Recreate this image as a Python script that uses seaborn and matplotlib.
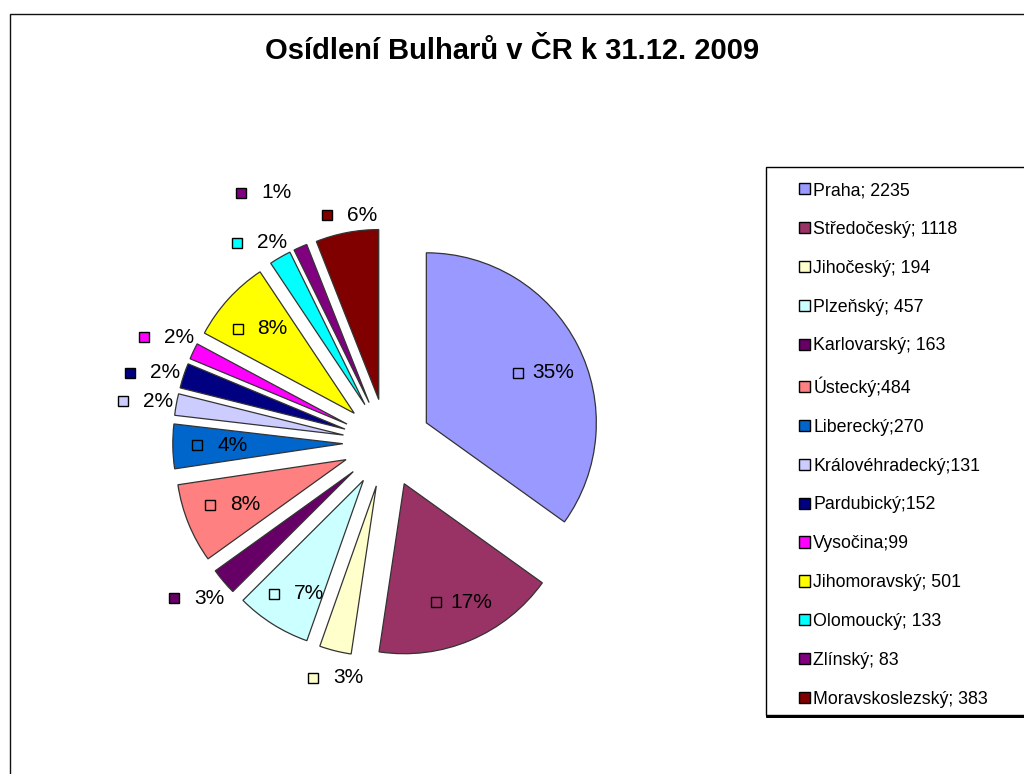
import numpy as np
import matplotlib
matplotlib.use("Agg")
import matplotlib.pyplot as plt
import matplotlib.transforms as mtransforms
from matplotlib.patches import Patch, Rectangle
import seaborn as sns

# data
regions = ['Praha', 'Středočeský', 'Jihočeský', 'Plzeňský', 'Karlovarský', 'Ústecký',
           'Liberecký', 'Královéhradecký', 'Pardubický', 'Vysočina', 'Jihomoravský',
           'Olomoucký', 'Zlínský', 'Moravskoslezský']
counts = [2235, 1118, 194, 457, 163, 484, 270, 131, 152, 99, 501, 133, 83, 383]
separators = ['; ', '; ', '; ', '; ', '; ', ';', ';', ';', ';', ';', '; ', '; ', '; ', '; ']
colors = ['#9999FF', '#993366', '#FFFFCC', '#CCFFFF', '#660066', '#FF8080', '#0066CC',
          '#CCCCFF', '#000080', '#FF00FF', '#FFFF00', '#00FFFF', '#800080', '#800000']

# label placement: distance from each (exploded) slice centre in pie radii,
# and a small turn (degrees) away from the slice bisector
label_dist = [0.80, 0.80, 1.14, 0.74, 1.13, 0.65, 0.65, 1.11, 1.11, 1.11, 0.69, 1.10, 1.35, 1.09]
label_turn = [-5.6, 6.6, 5.7, 6.5, 1.0, 2.0, 0.0, 0.0, 1.0, -2.0, -3.7, 0.0, 0.0, -5.6]

sns.set_theme(style="white")
plt.rcParams['font.family'] = ['Liberation Sans', 'DejaVu Sans']
plt.rcParams['text.color'] = 'black'

W, H = 1024, 774
fig = plt.figure(figsize=(W / 100, H / 100), dpi=100)
fig.patch.set_facecolor('white')

# outer chart frame (only top and left edges visible)
fig.patches.append(Rectangle((10 / W, -0.1), 1.2, 1 - 14 / H + 0.1, transform=fig.transFigure,
                             fill=False, edgecolor='#111111', linewidth=1.0, zorder=0))

# axes so that 1 data unit = 170 px, pie centre at (387, 443) px
R = 170.0
cx, cy = 387.0, H - 443.0
left_px, bottom_px, size_px = cx - 2 * R, 0.0, 4 * R
ax = fig.add_axes([left_px / W, bottom_px / H, size_px / W, size_px / H])
total = sum(counts)
wedges, _ = ax.pie(counts, colors=colors, startangle=90, counterclock=False,
                   explode=[0.26] * len(counts), radius=1,
                   wedgeprops=dict(edgecolor='#333333', linewidth=0.9))
ax.set_xlim(-2, 2)
ax.set_ylim((bottom_px - cy) / R, (bottom_px + size_px - cy) / R)
ax.set_aspect('auto')
ax.axis('off')

for w, c, col, d, t in zip(wedges, counts, colors, label_dist, label_turn):
    ang = np.deg2rad((w.theta1 + w.theta2) / 2 + t)
    x0, y0 = w.center
    x = x0 + d * np.cos(ang)
    y = y0 + d * np.sin(ang)
    ax.text(x, y, f"{round(100 * c / total)}%", ha='center', va='center',
            fontsize=15, color='black')
    tr = mtransforms.offset_copy(ax.transData, fig=fig, x=-35, y=0, units='dots')
    ax.plot([x], [y], marker='s', ms=7, mfc=col, mec='black', mew=1.0,
            transform=tr, clip_on=False)

fig.text(512 / W, 1 - 51 / H, 'Osídlení Bulharů v ČR k 31.12. 2009', ha='center',
         va='center', fontsize=21, fontweight='bold', color='black')

# legend box (right edge runs past the image)
fig.patches.append(Rectangle((766 / W, 59 / H), 0.4, (715 - 167) / H,
                             transform=fig.transFigure, fill=False,
                             edgecolor='black', linewidth=1.0, zorder=1))
fig.patches.append(Rectangle((766 / W, 58 / H), 0.4, 0.0,
                             transform=fig.transFigure, fill=False,
                             edgecolor='black', linewidth=2.0, zorder=1))

handles = [Patch(facecolor=col, edgecolor='black', linewidth=1.0) for col in colors]
labels = [f"{n}{s}{v}" for n, s, v in zip(regions, separators, counts)]
fig.legend(handles, labels, loc='upper left', bbox_to_anchor=(799 / W, 1 - 182 / H),
           frameon=False, fontsize=12.8, handlelength=0.6, handleheight=0.6,
           handletextpad=0.2, labelspacing=1.23, borderpad=0, borderaxespad=0)

fig.savefig('out.png', dpi=100)
